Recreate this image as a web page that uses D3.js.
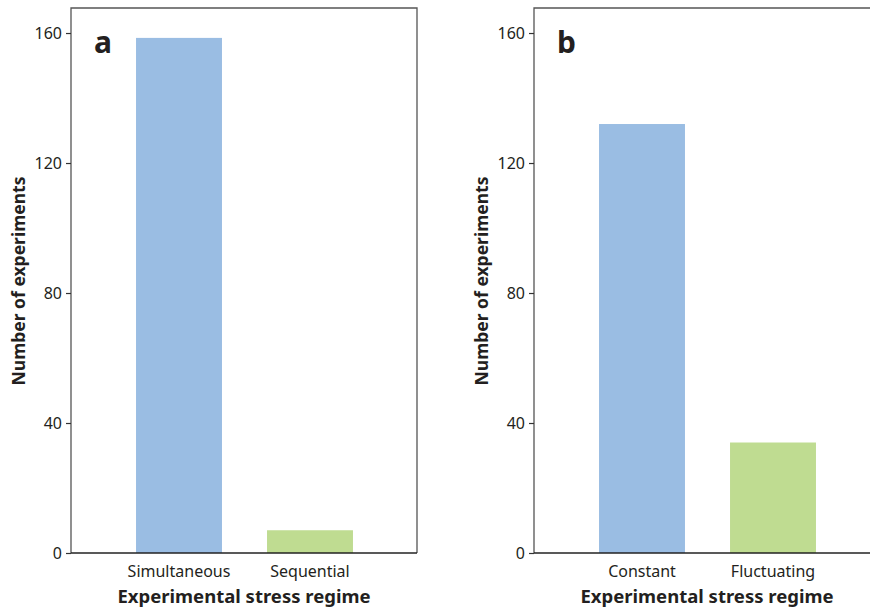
<!DOCTYPE html>
<html>
<head>
<meta charset="utf-8">
<script src="https://cdn.jsdelivr.net/npm/d3@7"></script>
<style>
  body { margin: 0; background: #fff; }
  text { font-family: "Noto Sans", "Open Sans", sans-serif; }
</style>
</head>
<body>
<div class="chart"></div>
<script>
// DATA ------------------------------
const panelLetters = ["a", "b"];
const categoriesA = ["Simultaneous", "Sequential"];
const valuesA = [158.5, 7];
const categoriesB = ["Constant", "Fluctuating"];
const valuesB = [132, 34];
const yTicks = [0, 40, 80, 120, 160];
const barColors = ["#9abde3", "#bfdc91"];
const xTitle = "Experimental stress regime";
const yTitle = "Number of experiments";

// CHART INIT ------------------------
const W = 870, H = 611;
const width = 346, height = 545;
const svg = d3.select(".chart")
    .append("svg")
    .attr("width", W)
    .attr("height", H);

const panels = [
  {letter: panelLetters[0], cats: categoriesA, vals: valuesA, left: 71},
  {letter: panelLetters[1], cats: categoriesB, vals: valuesB, left: 534}
];

panels.forEach(p => {
  const g = svg.append("g")
      .attr("transform", `translate(${p.left}, 8)`);

  let xScale = d3.scaleBand()
      .domain(p.cats)
      .range([42.5, 304.5])
      .paddingInner(0.344)
      .paddingOuter(0.172);
  let yScale = d3.scaleLinear()
      .domain([0, 167.7])
      .range([height, 0]);

  // bars
  g.selectAll("rect.bar")
    .data(p.cats.map((c, i) => ({cat: c, val: p.vals[i], i: i})))
    .enter()
    .append("rect")
    .attr("class", "bar")
    .attr("x", d => xScale(d.cat))
    .attr("y", d => yScale(d.val))
    .attr("width", xScale.bandwidth())
    .attr("height", d => height - yScale(d.val))
    .attr("fill", d => barColors[d.i]);

  // frame (top, left, right)
  g.append("path")
    .attr("d", `M0,${height}V0H${width}V${height}`)
    .attr("fill", "none")
    .attr("stroke", "#555")
    .attr("stroke-width", 1.3);

  // y axis
  const yAxis = d3.axisLeft(yScale)
      .tickValues(yTicks)
      .tickSize(5)
      .tickPadding(4);
  const ya = g.append("g").attr("class", "axis y-axis").call(yAxis);
  ya.select(".domain").remove();
  ya.selectAll("line").attr("stroke", "#333").attr("stroke-width", 1.2);
  ya.selectAll("text")
    .attr("font-size", "16px")
    .attr("fill", "#231f20")
    .style("font-family", "'Noto Sans', sans-serif");

  // x axis
  const xAxis = d3.axisBottom(xScale)
      .tickSize(0)
      .tickPadding(13);
  const xa = g.append("g")
      .attr("class", "axis x-axis")
      .attr("transform", `translate(0, ${height})`)
      .call(xAxis);
  xa.select(".domain")
    .attr("d", `M0,0H${width}`)
    .attr("stroke", "#222")
    .attr("stroke-width", 1.5);
  xa.selectAll("text")
    .attr("font-size", "16px")
    .attr("fill", "#231f20")
    .style("font-family", "'Noto Sans', sans-serif");

  // axis titles
  g.append("text")
    .attr("x", width / 2)
    .attr("y", height + 50)
    .attr("text-anchor", "middle")
    .attr("font-size", "18.5px")
    .attr("font-weight", "bold")
    .attr("fill", "#231f20")
    .text(xTitle);

  g.append("text")
    .attr("transform", `translate(-46, 273) rotate(-90)`)
    .attr("text-anchor", "middle")
    .attr("font-size", "17.5px")
    .attr("font-weight", "bold")
    .attr("fill", "#231f20")
    .text(yTitle);

  // panel letter
  g.append("text")
    .attr("x", 23)
    .attr("y", 45)
    .attr("font-size", "30px")
    .attr("font-weight", "bold")
    .attr("fill", "#231f20")
    .text(p.letter);
});
</script>
</body>
</html>
